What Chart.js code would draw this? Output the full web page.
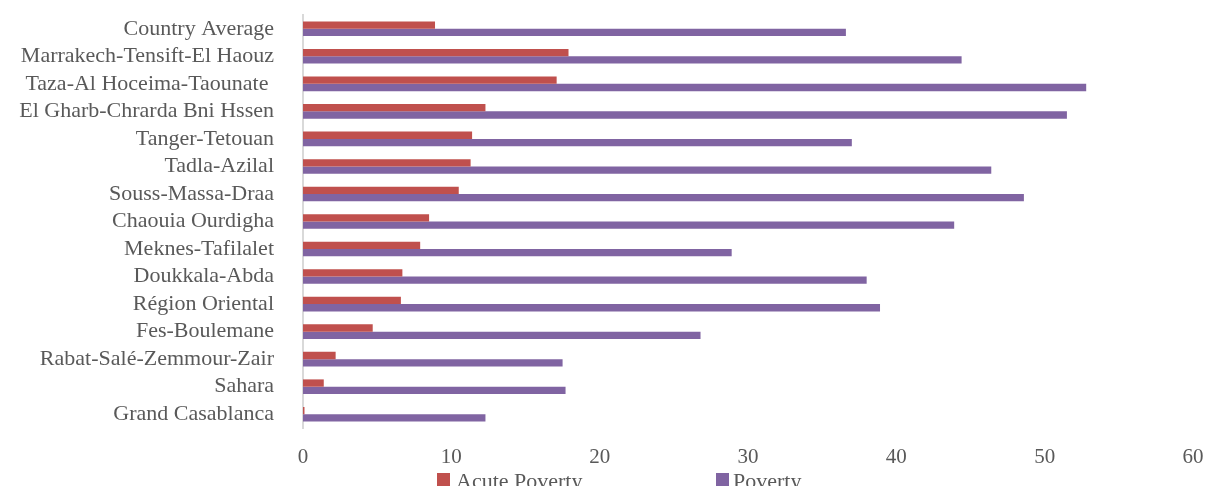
<!DOCTYPE html>
<html>
<head>
<meta charset="utf-8">
<script src="https://cdn.jsdelivr.net/npm/chart.js@4/dist/chart.umd.min.js"></script>
<style>
  html, body { margin: 0; padding: 0; background: #ffffff; overflow: hidden; }
  #wrap { position: relative; width: 1209px; height: 486px; }
</style>
</head>
<body>
<div id="wrap"><canvas id="chart" width="1209" height="486"></canvas></div>
<script>
// Regions, listed top to bottom
const regions = [
  'Country Average',
  'Marrakech-Tensift-El Haouz',
  'Taza-Al Hoceima-Taounate ',
  'El Gharb-Chrarda Bni Hssen',
  'Tanger-Tetouan',
  'Tadla-Azilal',
  'Souss-Massa-Draa',
  'Chaouia Ourdigha',
  'Meknes-Tafilalet',
  'Doukkala-Abda',
  'Région Oriental',
  'Fes-Boulemane',
  'Rabat-Salé-Zemmour-Zair',
  'Sahara',
  'Grand Casablanca'
];

// Poverty rates (%) per region
const acutePoverty = [8.9, 17.9, 17.1, 12.3, 11.4, 11.3, 10.5, 8.5, 7.9, 6.7, 6.6, 4.7, 2.2, 1.4, 0.1];
const poverty      = [36.6, 44.4, 52.8, 51.5, 37.0, 46.4, 48.6, 43.9, 28.9, 38.0, 38.9, 26.8, 17.5, 17.7, 12.3];

const seriesNames = ['Acute Poverty', 'Poverty'];
const xTicks = [0, 10, 20, 30, 40, 50, 60];

const FONT = '"Liberation Serif", "DejaVu Serif", serif';
const TEXT = '#595959';
const RED = '#C0504D';
const PURPLE = '#8064A2';

// Legend drawn below the x axis, Office-style spacing
const bottomLegend = {
  id: 'bottomLegend',
  afterDraw(chart) {
    const ctx = chart.ctx;
    const slots = [{ box: 437, text: 456 }, { box: 716, text: 733 }];
    ctx.save();
    ctx.font = '22px ' + FONT;
    ctx.textBaseline = 'middle';
    ctx.textAlign = 'left';
    chart.data.datasets.forEach((ds, i) => {
      const s = slots[i];
      ctx.fillStyle = ds.backgroundColor;
      ctx.fillRect(s.box, 473, 13, 13);
      ctx.fillStyle = TEXT;
      ctx.fillText(ds.label, s.text, 482);
    });
    ctx.restore();
  }
};

new Chart(document.getElementById('chart'), {
  type: 'bar',
  data: {
    labels: regions,
    datasets: [
      { label: seriesNames[0], data: acutePoverty, backgroundColor: RED },
      { label: seriesNames[1], data: poverty, backgroundColor: PURPLE }
    ]
  },
  options: {
    indexAxis: 'y',
    responsive: false,
    animation: false,
    datasets: { bar: { categoryPercentage: 0.53, barPercentage: 1.0 } },
    layout: { padding: { top: 15, right: 16, left: 0, bottom: 0 } },
    plugins: {
      legend: { display: false },
      tooltip: { enabled: false }
    },
    scales: {
      x: {
        min: 0,
        max: 60,
        afterBuildTicks(scale) { scale.ticks = xTicks.map(v => ({ value: v })); },
        afterFit(scale) {
          scale.height = 58;
          scale.paddingLeft = 0;
          scale.paddingRight = 0;
        },
        grid: { display: false },
        border: { display: false },
        ticks: { color: TEXT, font: { family: FONT, size: 21 }, padding: 9, maxRotation: 0 }
      },
      y: {
        afterFit(scale) {
          scale.width = 303;
          scale.paddingTop = 0;
          scale.paddingBottom = 0;
        },
        grid: { display: false },
        border: { display: true, color: '#D9D9D9', width: 2 },
        ticks: { color: TEXT, font: { family: FONT, size: 22 }, padding: 21, autoSkip: false }
      }
    }
  },
  plugins: [bottomLegend]
});
</script>
</body>
</html>
